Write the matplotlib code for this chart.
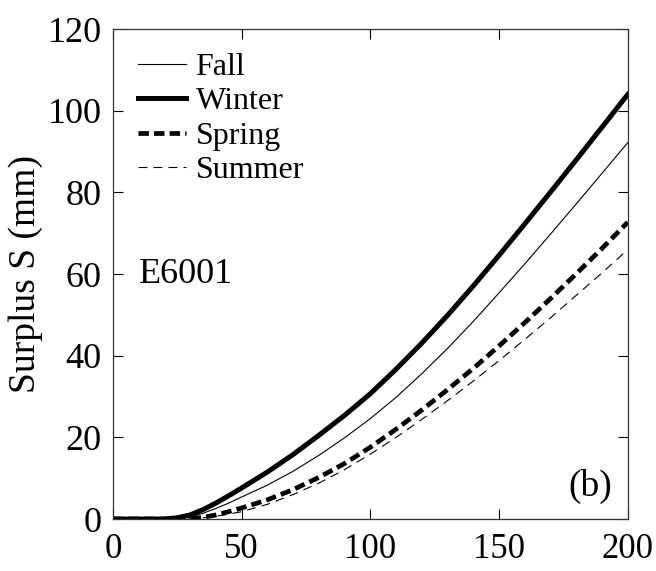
import matplotlib.pyplot as plt

# surplus curves, S (mm) against x, one per season
x = [0, 10, 20, 25, 30, 35, 40, 45, 50, 60, 70, 80, 90, 100, 110, 120, 130,
     140, 150, 160, 170, 180, 190, 200]
fall = [0, 0, 0, 0.1, 0.5, 1.4, 2.6, 3.9, 5.4, 8.3, 11.7, 15.6, 19.9, 24.6,
        29.8, 35.6, 41.8, 48.4, 55.4, 62.5, 69.8, 77.2, 84.7, 92.2]
winter = [0, 0, 0, 0.3, 1.0, 2.3, 3.9, 5.7, 7.6, 11.5, 15.8, 20.5, 25.4, 30.7,
          36.7, 43.1, 49.9, 57.1, 64.6, 72.3, 80.1, 88.0, 96.0, 104.0]
spring = [0, 0, 0, 0, 0.1, 0.4, 1.0, 1.8, 2.7, 4.7, 7.2, 10.2, 13.6, 17.6,
          22.0, 26.7, 31.7, 36.9, 42.4, 48.1, 54.0, 60.1, 66.3, 72.7]
summer = [0, 0, 0, 0, 0.05, 0.3, 0.7, 1.2, 1.8, 3.6, 6.0, 8.8, 12.1, 15.9,
          20.0, 24.4, 29.0, 33.8, 38.8, 44.0, 49.3, 54.8, 60.3, 66.0]

xticks = [0, 50, 100, 150, 200]
yticks = [0, 20, 40, 60, 80, 100, 120]

plt.rcParams['font.family'] = 'Liberation Serif'
plt.rcParams['font.size'] = 26

fig = plt.figure(figsize=(6.56, 5.71), dpi=100)
ax = fig.add_axes([0.172, 0.091, 0.785, 0.858])

ax.plot(x, fall, 'k-', lw=0.8, label='Fall')
ax.plot(x, winter, 'k-', lw=3.6, label='Winter')
ax.plot(x, spring, 'k', lw=3.4, dashes=(2.2, 1.1), label='Spring')
ax.plot(x, summer, 'k', lw=0.8, dashes=(8, 5.5), label='Summer')

ax.set_xlim(0, 200)
ax.set_ylim(0, 120)
ax.set_xticks(xticks)
ax.set_yticks(yticks)
ax.tick_params(direction='in', length=7, width=0.8, top=True, right=True,
               labelsize=26)
ax.tick_params(axis='y', pad=8)
ax.tick_params(axis='x', pad=10, labelsize=25)
for s in ax.spines.values():
    s.set_linewidth(0.9)
    s.set_color('#333333')

ax.set_ylabel('Surplus S (mm)', fontsize=27, labelpad=3)

ax.text(10, 60, 'E6001', fontsize=26, va='center', ha='left')
ax.text(194, 8, '(b)', fontsize=27, va='center', ha='right')

ax.legend(loc='upper left', frameon=False, fontsize=23, handlelength=1.5,
          handletextpad=0.3, labelspacing=0.16, borderpad=0,
          borderaxespad=0, bbox_to_anchor=(0.049, 0.952))

fig.savefig('out.png', dpi=100)
